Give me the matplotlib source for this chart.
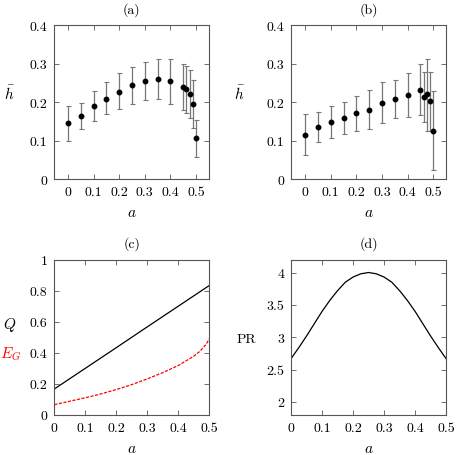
import numpy as np
import matplotlib
matplotlib.use("Agg")
import matplotlib.pyplot as plt
from matplotlib.ticker import FuncFormatter

plt.rcParams['font.family'] = 'serif'
plt.rcParams['font.serif'] = ['cmr10']
plt.rcParams['mathtext.fontset'] = 'cm'
plt.rcParams['axes.formatter.use_mathtext'] = True
plt.rcParams['font.size'] = 10

# data
a_pts = [0, 0.05, 0.1, 0.15, 0.2, 0.25, 0.3, 0.35, 0.4, 0.45, 0.4625, 0.475, 0.4875, 0.5]

h_a = [0.146, 0.163, 0.189, 0.209, 0.227, 0.244, 0.255, 0.260, 0.255, 0.240, 0.233, 0.221, 0.195, 0.106]
h_a_hi = [0.191, 0.197, 0.228, 0.251, 0.275, 0.292, 0.304, 0.313, 0.313, 0.300, 0.293, 0.282, 0.258, 0.154]
h_a_lo = [0.100, 0.129, 0.152, 0.168, 0.182, 0.195, 0.205, 0.208, 0.195, 0.180, 0.172, 0.159, 0.132, 0.057]

h_b = [0.115, 0.136, 0.148, 0.158, 0.172, 0.180, 0.198, 0.209, 0.219, 0.232, 0.213, 0.220, 0.203, 0.126]
h_b_hi = [0.168, 0.174, 0.189, 0.199, 0.217, 0.230, 0.252, 0.258, 0.275, 0.298, 0.279, 0.312, 0.279, 0.228]
h_b_lo = [0.062, 0.097, 0.106, 0.117, 0.124, 0.130, 0.145, 0.159, 0.161, 0.167, 0.147, 0.126, 0.126, 0.024]

a_q = [0, 0.1, 0.2, 0.3, 0.4, 0.5]
Q = [0.167, 0.300, 0.433, 0.567, 0.700, 0.833]

a_eg = [0, 0.05, 0.1, 0.15, 0.2, 0.25, 0.3, 0.35, 0.4, 0.45, 0.47, 0.49, 0.5]
E_G = [0.066, 0.088, 0.110, 0.135, 0.163, 0.195, 0.232, 0.272, 0.318, 0.378, 0.41, 0.455, 0.49]

a_pr = [0, 0.025, 0.05, 0.075, 0.1, 0.125, 0.15, 0.175, 0.2, 0.225, 0.25,
        0.275, 0.3, 0.325, 0.35, 0.375, 0.4, 0.425, 0.45, 0.475, 0.5]
PR = [2.67, 2.84, 3.02, 3.21, 3.40, 3.57, 3.72, 3.85, 3.93, 3.98, 4.0,
      3.98, 3.93, 3.85, 3.72, 3.57, 3.40, 3.21, 3.02, 2.84, 2.67]

fmt = FuncFormatter(lambda v, p: '%g' % round(v, 3))


def style(ax, title):
    ax.tick_params(direction='in', top=True, right=True, length=3.5, width=0.6,
                   color='#555555', labelsize=10, pad=5)
    for s in ax.spines.values():
        s.set_color('#555555')
        s.set_linewidth(0.8)
    ax.set_title(title, fontsize=10, pad=9)
    ax.set_xticks([0, 0.1, 0.2, 0.3, 0.4, 0.5])
    ax.xaxis.set_major_formatter(fmt)
    ax.yaxis.set_major_formatter(fmt)
    ax.set_xlabel(r'$a$', fontsize=11, labelpad=5)


fig = plt.figure(figsize=(4.57, 4.56), dpi=100)
ax_a = fig.add_axes([0.118, 0.605, 0.339, 0.338])
ax_b = fig.add_axes([0.637, 0.605, 0.339, 0.338])
ax_c = fig.add_axes([0.119, 0.088, 0.339, 0.3406])
ax_d = fig.add_axes([0.637, 0.088, 0.339, 0.3406])

for ax, h, hi, lo, t, lx in [(ax_a, h_a, h_a_hi, h_a_lo, '(a)', -0.29),
                             (ax_b, h_b, h_b_hi, h_b_lo, '(b)', -0.335)]:
    h = np.array(h)
    err = [h - np.array(lo), np.array(hi) - h]
    ax.errorbar(a_pts, h, yerr=err, fmt='o', color='black', ms=3.2,
                ecolor='#777777', elinewidth=0.9, capsize=1.8, capthick=0.8)
    ax.set_xlim(-0.055, 0.55)
    ax.set_ylim(0, 0.4)
    ax.set_yticks([0, 0.1, 0.2, 0.3, 0.4])
    style(ax, t)
    ax.set_ylabel(r'$\bar{h}$', fontsize=11, rotation=0)
    ax.yaxis.set_label_coords(lx, 0.50)

ax_c.plot(a_q, Q, color='black', lw=0.9)
ax_c.plot(a_eg, E_G, color='red', lw=0.9, ls=(0, (2.5, 1.2)))
ax_c.set_xlim(0, 0.5)
ax_c.set_ylim(0, 1)
ax_c.set_yticks([0, 0.2, 0.4, 0.6, 0.8, 1])
style(ax_c, '(c)')
ax_c.text(-0.29, 0.586, r'$Q$', transform=ax_c.transAxes, fontsize=11,
          ha='center', va='center')
ax_c.text(-0.285, 0.40, r'$E_G$', transform=ax_c.transAxes, fontsize=11,
          ha='center', va='center', color='red')

ax_d.plot(a_pr, PR, color='black', lw=0.9)
ax_d.set_xlim(0, 0.5)
ax_d.set_ylim(1.8, 4.2)
ax_d.set_yticks([2, 2.5, 3, 3.5, 4])
style(ax_d, '(d)')
ax_d.set_ylabel('PR', fontsize=10, rotation=0)
ax_d.yaxis.set_label_coords(-0.29, 0.45)

fig.savefig('out.png', dpi=100)
